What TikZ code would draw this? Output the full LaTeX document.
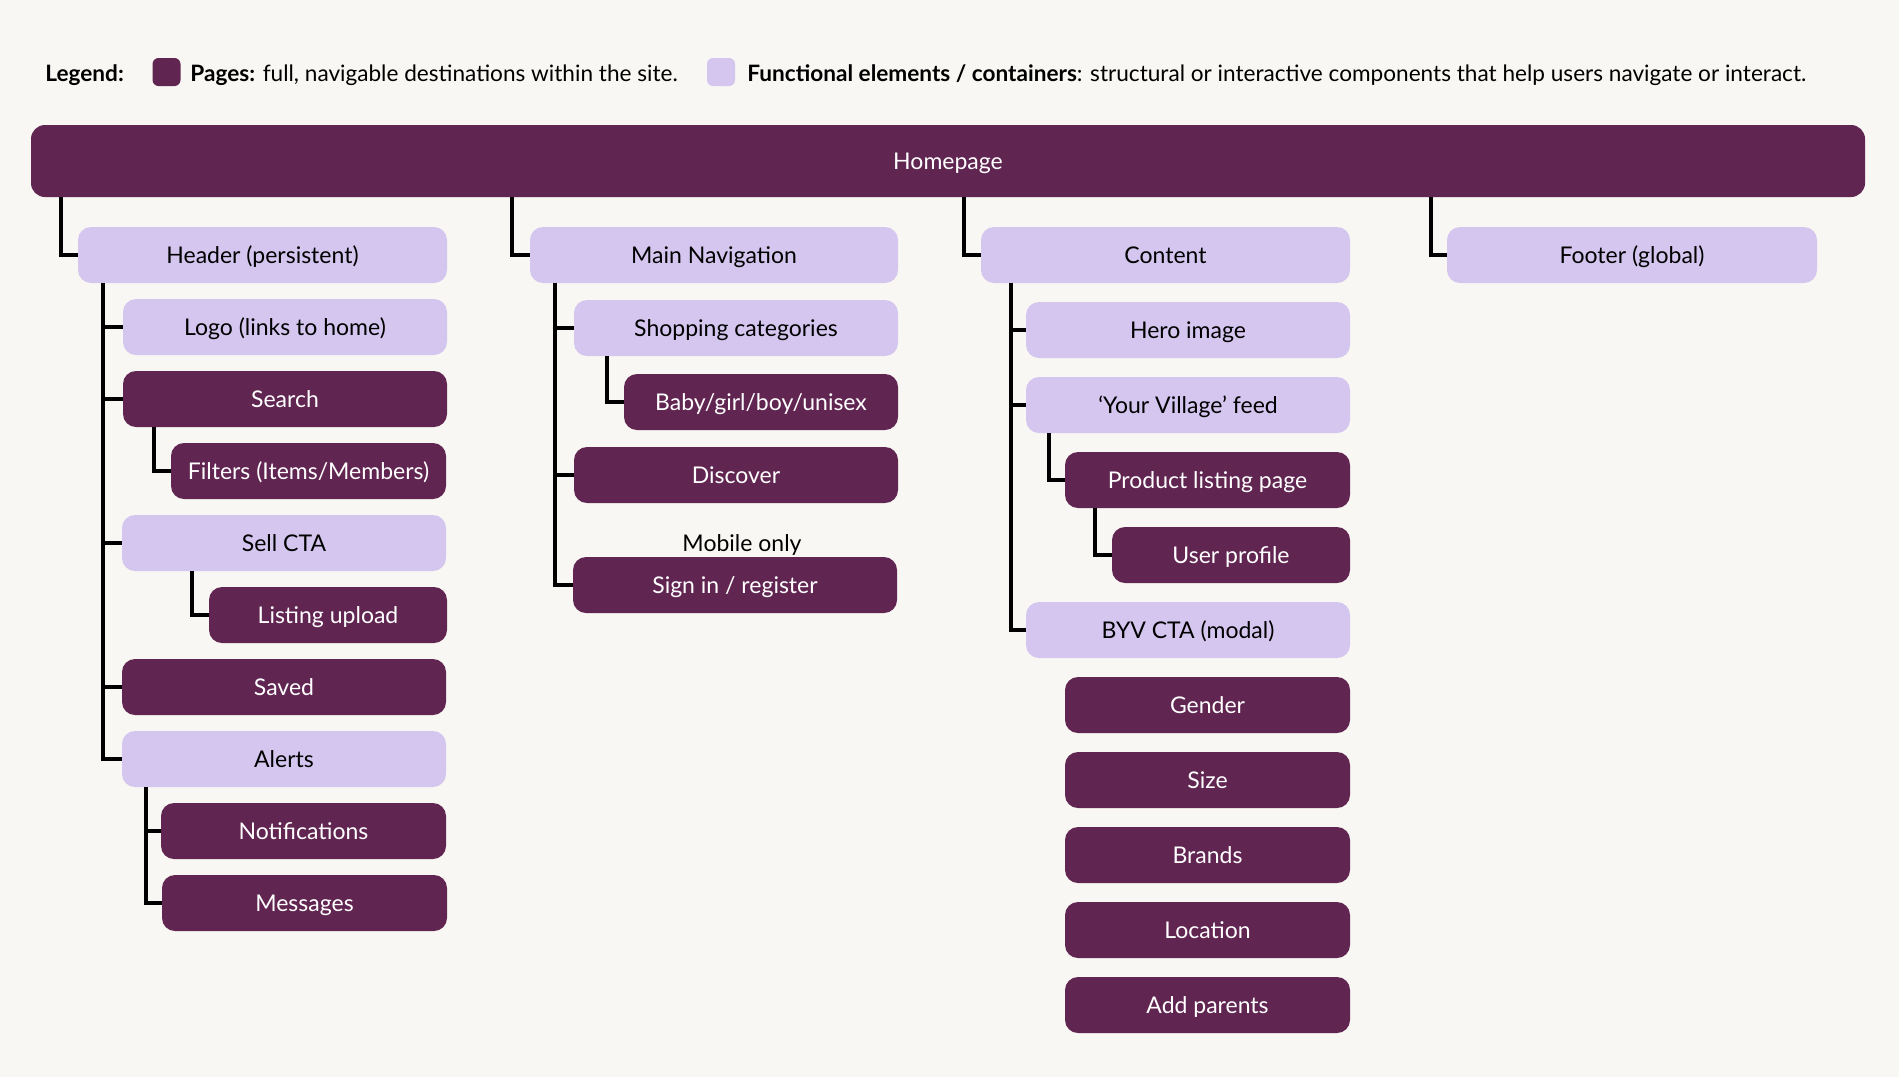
\documentclass[tikz,border=0pt]{standalone}
\usepackage{fontspec}
\setmainfont{Lato}
\definecolor{plum}{HTML}{612552}
\definecolor{lilac}{HTML}{D4C6EF}
\definecolor{paper}{HTML}{F8F7F3}
\tikzset{
  box/.style={rounded corners=6.5pt, minimum height=28pt, inner sep=0pt, text height=8.3pt, text depth=0pt, font=\fontsize{11.5}{14}\selectfont},
  pagebox/.style={box, fill=plum, text=white},
  funcbox/.style={box, fill=lilac, text=black},
  link/.style={line width=1.6pt, black},
  legtext/.style={anchor=west, inner sep=0pt, text height=8.1pt, text depth=0pt, font=\fontsize{11.3}{14}\selectfont},
}
\begin{document}
\begin{tikzpicture}[x=0.5pt, y=-0.5pt]
\fill[paper] (0,0) rectangle (1899,1077);
\useasboundingbox (0,0) rectangle (1899,1077);

% legend
\node[legtext] (leg) at (45,73) {\textbf{Legend:}};
\node[fill=plum, rounded corners=3pt, minimum size=14pt, inner sep=0pt] (swpage) at (166.5,72) {};
\node[legtext] (legpage) at (190,73) {\textbf{Pages:} full, navigable destinations within the site.};
\node[fill=lilac, rounded corners=3pt, minimum size=14pt, inner sep=0pt] (swfunc) at (721,72) {};
\node[legtext] (legfunc) at (747,73) {\textbf{Functional elements / containers}: structural or interactive components that help users navigate or interact.};

% root
\node[pagebox, minimum width=917pt, minimum height=36pt, rounded corners=7pt] (home) at (948,161) {Homepage};

% header
\node[funcbox, minimum width=184.5pt] (hdr) at (262.5,255) {Header (persistent)};
\node[funcbox, minimum width=162pt] (logo) at (285,327) {Logo (links to home)};
\node[pagebox, minimum width=162pt] (search) at (285,399) {Search};
\node[pagebox, minimum width=137.5pt] (filters) at (308.5,471) {Filters (Items/Members)};
\node[funcbox, minimum width=162pt] (sell) at (284,543) {Sell CTA};
\node[pagebox, minimum width=119pt] (upload) at (328,615) {Listing upload};
\node[pagebox, minimum width=162pt] (saved) at (284,687) {Saved};
\node[funcbox, minimum width=162pt] (alerts) at (284,759) {Alerts};
\node[pagebox, minimum width=142.5pt] (notif) at (303.5,831) {Notifications};
\node[pagebox, minimum width=142.5pt] (msg) at (304.5,903) {Messages};

% main navigation
\node[funcbox, minimum width=184pt] (nav) at (714,255) {Main Navigation};
\node[funcbox, minimum width=162pt] (shop) at (736,328) {Shopping categories};
\node[pagebox, minimum width=137pt] (baby) at (761,402) {Baby/girl/boy/unisex};
\node[pagebox, minimum width=162pt] (disc) at (736,475) {Discover};
\node[font=\fontsize{11.5}{14}\selectfont, inner sep=0pt, text height=8.3pt, text depth=0pt] (mobile) at (742,543) {Mobile only};
\node[pagebox, minimum width=162pt] (signin) at (735,585) {Sign in / register};

% content
\node[funcbox, minimum width=184.5pt] (cont) at (1165.5,255) {Content};
\node[funcbox, minimum width=162pt] (hero) at (1188,330) {Hero image};
\node[funcbox, minimum width=162pt] (feed) at (1188,405) {`Your Village' feed};
\node[pagebox, minimum width=142.5pt] (plp) at (1207.5,480) {Product listing page};
\node[pagebox, minimum width=119pt] (user) at (1231,555) {User profile};
\node[funcbox, minimum width=162pt] (byv) at (1188,630) {BYV CTA (modal)};
\node[pagebox, minimum width=142.5pt] (gender) at (1207.5,705) {Gender};
\node[pagebox, minimum width=142.5pt] (size) at (1207.5,780) {Size};
\node[pagebox, minimum width=142.5pt] (brands) at (1207.5,855) {Brands};
\node[pagebox, minimum width=142.5pt] (loc) at (1207.5,930) {Location};
\node[pagebox, minimum width=142.5pt] (parents) at (1207.5,1005) {Add parents};

% footer
\node[funcbox, minimum width=185pt] (foot) at (1632,255) {Footer (global)};

% connectors
\foreach \p/\c/\x in {home/hdr/61, home/nav/512, home/cont/964, home/foot/1431,
    hdr/logo/103, hdr/search/103, hdr/sell/103, hdr/saved/103, hdr/alerts/103,
    search/filters/154, sell/upload/192, alerts/notif/146, alerts/msg/146,
    nav/shop/555, nav/disc/555, nav/signin/555, shop/baby/607,
    cont/hero/1011, cont/feed/1011, cont/byv/1011, feed/plp/1049, plp/user/1095}{
  \draw[link] (\x,0 |- \p.south) |- (\c.west);
}
\end{tikzpicture}
\end{document}
